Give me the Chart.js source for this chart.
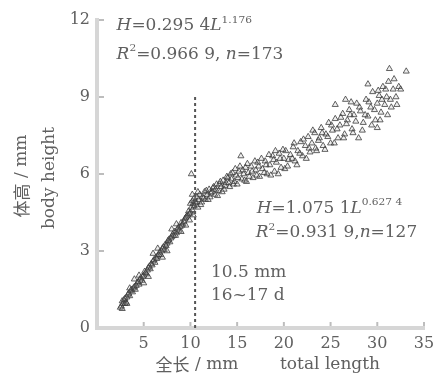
<!DOCTYPE html>
<html>
<head>
<meta charset="utf-8">
<script src="https://cdn.jsdelivr.net/npm/chart.js@4.4.1/dist/chart.umd.min.js"></script>
<style>
html,body{margin:0;padding:0;background:#fff;}
#wrap{width:434px;height:374px;}
</style>
</head>
<body>
<div id="wrap"><canvas id="c" width="434" height="374"></canvas></div>
<script>
// ---- data ----
const xTicks = [0, 5, 10, 15, 20, 25, 30, 35];
const yTicks = [0, 3, 6, 9, 12];
const lengthEarly = [2.6,2.7,2.8,3.0,3.1,3.3,3.5,3.6,3.8,4.0,4.1,4.3,4.5,4.6,4.8,5.0,5.1,5.3,5.5,5.7,5.8,6.0,6.2,6.3,6.5,6.7,6.8,7.0,7.2,7.3,7.5,7.7,7.8,8.0,8.2,8.3,8.5,8.7,8.9,9.0,9.2,9.4,9.5,9.7,9.8,10.0,10.1,10.2,10.3,10.4,10.5,9.9,10.2,10.1,
  2.5,2.9,3.2,3.4,3.7,3.9,4.2,4.4,4.7,4.9,5.2,5.4,5.6,5.9,6.1,6.4,6.6,6.9,7.1,7.4,7.6,7.9,8.1,8.4,8.6,8.8,9.1,9.3,9.6,9.9,10.2,10.4,2.7,3.0,
  4.0,5.0,6.0,7.0,8.0,9.0,4.5,5.5,6.5,7.5,8.5,9.5,3.5,3.2,10.0,10.3];
const heightEarly = [0.85,1.05,0.95,1.15,1.0,1.3,1.25,1.45,1.4,1.6,1.5,1.75,1.7,1.9,1.85,2.05,2.2,2.1,2.35,2.3,2.5,2.6,2.55,2.75,2.8,2.95,2.85,3.1,3.05,3.25,3.3,3.45,3.35,3.55,3.6,3.75,3.7,3.9,3.95,4.1,4.05,4.25,4.3,4.4,4.55,4.5,4.7,4.6,4.85,4.75,4.9,4.2,5.2,6.0,
  0.8,1.1,1.2,1.35,1.5,1.55,1.65,1.8,1.95,2.0,2.15,2.25,2.4,2.45,2.65,2.7,2.85,3.0,3.15,3.2,3.4,3.5,3.65,3.6,3.85,3.8,4.0,4.15,4.35,4.45,4.95,5.05,0.75,0.95,
  1.9,1.75,2.9,2.75,3.85,3.75,2.05,2.0,3.1,3.0,4.05,4.0,1.55,0.95,4.85,4.4];
const lengthLate = [10.6,10.7,10.8,10.9,11.0,11.2,11.3,11.5,11.6,11.8,12.0,12.1,12.3,12.5,12.6,12.8,13.0,13.1,13.3,13.5,13.6,13.8,14.0,14.2,14.4,14.5,14.7,14.9,15.0,15.2,15.4,15.5,15.7,15.9,16.0,16.2,16.5,16.7,17.0,17.2,17.4,17.7,18.0,18.2,18.5,18.8,19.0,19.2,19.5,19.7,20.0,20.2,20.4,20.7,21.0,21.2,21.5,21.8,22.0,22.3,22.6,22.8,23.0,23.3,23.5,23.8,24.0,24.2,24.5,24.8,25.0,25.2,25.5,25.8,26.0,26.3,26.5,26.8,27.0,27.3,27.5,27.8,28.0,28.2,28.5,28.8,29.0,29.3,29.5,29.8,30.0,30.2,30.4,30.6,30.8,31.0,31.2,31.3,31.5,31.7,32.0,32.3,33.1,30.0,25.5,26.6,
  10.8,11.1,11.4,11.7,11.9,12.2,12.4,12.7,12.9,13.2,13.4,13.7,13.9,14.1,14.3,14.6,14.8,15.1,15.3,15.6,15.8,16.1,16.3,16.6,16.9,17.1,17.3,17.6,17.9,18.1,18.4,18.6,18.9,19.1,19.4,19.6,19.9,20.1,20.5,20.9,21.1,21.4,21.7,22.1,22.4,22.7,23.1,23.4,23.7,24.1,24.4,24.7,25.1,25.4,25.7,26.1,26.4,26.7,27.1,27.4,27.7,28.1,28.4,28.7,29.1,29.4,29.7,30.1,30.3,30.5,30.9,31.1,31.4,31.8,32.1,32.5,29.0,27.2];
const heightLate = [4.9,5.1,4.7,5.0,5.2,4.9,5.1,5.3,5.0,5.2,5.4,5.1,5.3,5.5,5.2,5.6,5.35,5.6,5.5,5.75,5.4,5.65,5.85,5.5,5.8,6.05,5.7,5.95,5.6,6.1,6.7,5.8,6.0,6.25,5.7,6.05,6.3,5.85,6.15,6.45,5.9,6.2,6.5,6.0,6.35,6.7,6.1,6.45,6.8,6.25,6.6,6.9,6.3,6.75,7.05,6.5,6.9,7.25,6.7,7.1,7.45,6.85,7.2,7.6,6.9,7.4,7.8,7.1,7.55,8.0,7.2,7.7,8.15,7.4,7.9,8.35,7.55,8.1,8.5,7.75,8.3,8.75,7.4,8.45,8.0,8.9,8.25,8.6,9.2,8.1,8.75,9.05,8.4,9.4,8.7,9.0,9.6,10.1,8.6,9.3,9.0,9.4,10.0,7.8,8.7,8.9,
  5.3,4.8,5.05,5.35,5.0,5.25,5.45,5.4,5.15,5.7,5.3,5.55,5.9,5.65,6.0,5.6,6.2,5.85,6.3,6.15,5.75,6.4,5.9,6.1,6.5,5.95,6.3,6.6,6.05,6.35,6.75,5.95,6.55,6.9,6.0,6.6,6.95,6.2,6.55,6.6,7.2,6.35,6.8,7.35,6.6,7.0,7.7,7.0,7.3,7.6,6.95,7.45,7.9,7.2,7.75,8.2,7.4,7.95,8.3,7.6,8.05,8.6,7.7,8.3,8.8,7.9,8.5,9.25,8.1,8.9,9.3,8.3,8.9,9.7,8.7,9.3,9.5,8.8];
const breakLength = 10.5;
const breakTopHeight = 9;

const toPts = (xs, ys) => xs.map((x, i) => ({x: x, y: ys[i]}));

const TXT = '#606060';
const SERIF = '"DejaVu Serif", "Liberation Serif", serif';
const CJK = '"Noto Sans CJK SC", sans-serif';

function drawRich(ctx, x, y, segs, size, sx) {
  ctx.save();
  ctx.translate(x, y);
  ctx.scale(sx || 1, 1);
  let cx = 0;
  for (const s of segs) {
    const sz = s.sup ? Math.round(size * 0.62) : size;
    ctx.font = (s.i ? 'italic ' : '') + sz + 'px ' + SERIF;
    const dy = s.sup ? -size * 0.45 : 0;
    ctx.fillText(s.t, cx, dy);
    cx += ctx.measureText(s.t).width;
  }
  ctx.restore();
}

const overlay = {
  id: 'overlay',
  afterDraw(chart) {
    const ctx = chart.ctx;
    const xs = chart.scales.x, ys = chart.scales.y;
    ctx.save();
    // inward tick marks
    ctx.strokeStyle = '#bdbdbd';
    ctx.lineWidth = 2;
    xs.ticks.forEach((t) => {
      if (t.value === 0) return;
      const px = xs.getPixelForValue(t.value);
      ctx.beginPath(); ctx.moveTo(px, ys.bottom - 2); ctx.lineTo(px, ys.bottom - 6); ctx.stroke();
    });
    ys.ticks.forEach((t) => {
      if (t.value === 0) return;
      const py = ys.getPixelForValue(t.value);
      ctx.beginPath(); ctx.moveTo(xs.left + 2, py); ctx.lineTo(xs.left + 7, py); ctx.stroke();
    });
    // dashed break line
    const bx = xs.getPixelForValue(breakLength);
    ctx.strokeStyle = '#555';
    ctx.lineWidth = 2;
    ctx.setLineDash([3, 3]);
    ctx.beginPath();
    ctx.moveTo(bx, ys.getPixelForValue(breakTopHeight));
    ctx.lineTo(bx, ys.getPixelForValue(0));
    ctx.stroke();
    ctx.setLineDash([]);

    ctx.fillStyle = TXT;
    ctx.textBaseline = 'alphabetic';
    ctx.textAlign = 'left';
    const P = (lx, hy) => [xs.getPixelForValue(lx), ys.getPixelForValue(hy)];
    const SX = 1.06;
    let p = P(2.1, 11.6);
    drawRich(ctx, p[0], p[1], [{t:'H', i:true}, {t:'=0.295 4'}, {t:'L', i:true}, {t:'1.176', sup:true}], 16, SX);
    p = P(2.1, 10.5);
    drawRich(ctx, p[0], p[1], [{t:'R', i:true}, {t:'2', sup:true}, {t:'=0.966 9, '}, {t:'n', i:true}, {t:'=173'}], 16, SX);
    p = P(17.1, 4.5);
    drawRich(ctx, p[0], p[1], [{t:'H', i:true}, {t:'=1.075 1'}, {t:'L', i:true}, {t:'0.627 4', sup:true}], 16, SX);
    p = P(17.0, 3.55);
    drawRich(ctx, p[0], p[1], [{t:'R', i:true}, {t:'2', sup:true}, {t:'=0.931 9,'}, {t:'n', i:true}, {t:'=127'}], 16, SX);
    p = P(12.2, 2.0);
    drawRich(ctx, p[0], p[1], [{t:'10.5 mm'}], 16, SX);
    p = P(12.2, 1.1);
    drawRich(ctx, p[0], p[1], [{t:'16~17 d'}], 16, SX);

    // y axis titles (rotated)
    ctx.textBaseline = 'middle';
    ctx.save();
    ctx.translate(22, 176);
    ctx.rotate(-Math.PI / 2);
    ctx.font = '17px ' + CJK; const wa = ctx.measureText('体高').width;
    ctx.font = '17px ' + SERIF; const wb = ctx.measureText(' / mm').width;
    ctx.textAlign = 'left';
    ctx.font = '17px ' + CJK; ctx.fillText('体高', -(wa + wb) / 2, 0);
    ctx.font = '17px ' + SERIF; ctx.fillText(' / mm', -(wa + wb) / 2 + wa, 0);
    ctx.restore();
    ctx.save();
    ctx.translate(50, 178);
    ctx.rotate(-Math.PI / 2);
    ctx.textAlign = 'center';
    ctx.font = '17px ' + SERIF;
    ctx.fillText('body height', 0, 0);
    ctx.restore();

    // x axis title
    ctx.textAlign = 'left';
    ctx.font = '17px ' + CJK;
    const w1 = ctx.measureText('全长').width;
    ctx.font = '17px ' + SERIF;
    const w2 = ctx.measureText(' / mm').width;
    const x0 = 197 - (w1 + w2) / 2;
    ctx.font = '17px ' + CJK;
    ctx.fillText('全长', x0, 365);
    ctx.font = '17px ' + SERIF;
    ctx.fillText(' / mm', x0 + w1, 365);
    ctx.textAlign = 'center';
    ctx.fillText('total length', 330, 365);
    ctx.restore();
  }
};

new Chart(document.getElementById('c'), {
  type: 'scatter',
  data: {
    datasets: [
      { label: 'early', data: toPts(lengthEarly, heightEarly), pointStyle: 'triangle', pointRadius: 3.5,
        borderColor: 'rgba(60,60,60,0.8)', backgroundColor: 'rgba(140,140,140,0.15)', borderWidth: 1 },
      { label: 'late', data: toPts(lengthLate, heightLate), pointStyle: 'triangle', pointRadius: 3.5,
        borderColor: 'rgba(60,60,60,0.8)', backgroundColor: 'rgba(140,140,140,0.15)', borderWidth: 1 }
    ]
  },
  options: {
    responsive: false,
    animation: false,
    devicePixelRatio: 1,
    layout: { padding: { left: 0, top: 20, right: 10, bottom: 0 } },
    plugins: { legend: { display: false }, tooltip: { enabled: false } },
    scales: {
      x: {
        type: 'linear', min: 0, max: 35,
        afterBuildTicks: (s) => { s.ticks = xTicks.map(v => ({value: v})); },
        afterFit: (s) => { s.height = 46; s.paddingRight = 0; s.paddingLeft = 0; },
        grid: { display: false, drawTicks: false },
        border: { display: true, color: '#d6d6d6', width: 4 },
        ticks: { padding: 6, color: TXT, font: { family: SERIF, size: 16 },
                 callback: (v) => (v === 0 ? '' : String(v)) }
      },
      y: {
        type: 'linear', min: 0, max: 12,
        afterBuildTicks: (s) => { s.ticks = yTicks.map(v => ({value: v})); },
        afterFit: (s) => { s.width = 97; },
        grid: { display: false, drawTicks: false },
        border: { display: true, color: '#d6d6d6', width: 4 },
        ticks: { padding: 7, color: TXT, font: { family: SERIF, size: 16 },
                 callback: (v) => String(v) }
      }
    }
  },
  plugins: [overlay]
});
</script>
</body>
</html>
